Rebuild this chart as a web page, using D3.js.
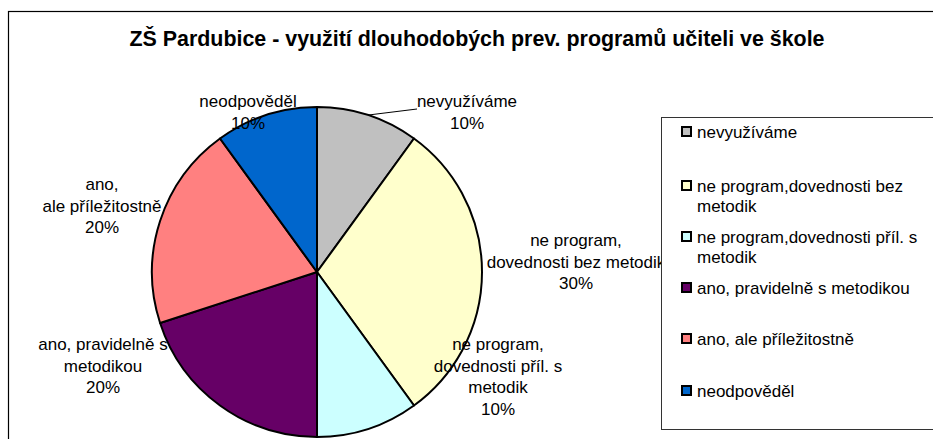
<!DOCTYPE html>
<html>
<head>
<meta charset="utf-8">
<script src="https://cdn.jsdelivr.net/npm/d3@7"></script>
<style>
  html, body { margin: 0; padding: 0; background: #fff; }
  svg { display: block; font-family: Arial, "Liberation Sans", sans-serif; }
</style>
</head>
<body>
<svg id="chart" width="933" height="439"></svg>
<script>
// Survey answers (share of teachers, %)
const categories = [
  "nevyužíváme",
  "ne program,dovednosti bez metodik",
  "ne program,dovednosti příl. s metodik",
  "ano, pravidelně s metodikou",
  "ano, ale příležitostně",
  "neodpověděl"
];
const values = [10, 30, 10, 20, 20, 10];
const colors = ["#C0C0C0", "#FFFFCC", "#CCFFFF", "#660066", "#FF8080", "#0066CC"];

// Wrapped text for the slice labels
const sliceLabelLines = [
  ["nevyužíváme"],
  ["ne program,", "dovednosti bez metodik"],
  ["ne program,", "dovednosti příl. s", "metodik"],
  ["ano, pravidelně s", "metodikou"],
  ["ano,", "ale příležitostně"],
  ["neodpověděl"]
];
// Wrapped text for the legend entries
const legendLines = [
  ["nevyužíváme"],
  ["ne program,dovednosti bez", "metodik"],
  ["ne program,dovednosti příl. s", "metodik"],
  ["ano, pravidelně s metodikou"],
  ["ano, ale příležitostně"],
  ["neodpověděl"]
];
const title = "ZŠ Pardubice - využití dlouhodobých prev. programů učiteli ve škole";

const svg = d3.select("#chart");
const total = d3.sum(values);

// outer chart frame
svg.append("rect")
  .attr("x", 8.5).attr("y", 11.5)
  .attr("width", 1000).attr("height", 1000)
  .attr("fill", "#fff").attr("stroke", "#000").attr("stroke-width", 1.2);

// title
svg.append("text")
  .attr("x", 477).attr("y", 46)
  .attr("text-anchor", "middle")
  .attr("font-size", 21.4).attr("font-weight", "bold")
  .attr("fill", "#000")
  .text(title);

// pie
const cx = 317, cy = 272, r = 165;
const pie = d3.pie().sort(null).value(d => d)(values);
const arc = d3.arc().innerRadius(0).outerRadius(r);

const g = svg.append("g").attr("transform", `translate(${cx},${cy})`);
g.selectAll("path.slice")
  .data(pie)
  .join("path")
  .attr("class", "slice")
  .attr("d", arc)
  .attr("fill", (d, i) => colors[i])
  .attr("stroke", "#000")
  .attr("stroke-width", 2)
  .attr("stroke-linejoin", "round");

// label anchors: centre x and first baseline
const labelAnchor = [
  [467, 107],
  [576, 246],
  [498, 350],
  [103, 350],
  [102, 190],
  [248, 107]
];
const lineH = 21.5;
const labelFont = 17;

// leader line for the top-right slice label
{
  const d = pie[0];
  const mid = (d.startAngle + d.endAngle) / 2;
  const sx = cx + Math.sin(mid) * r, sy = cy - Math.cos(mid) * r;
  svg.append("line")
    .attr("x1", sx).attr("y1", sy)
    .attr("x2", 417).attr("y2", 109)
    .attr("stroke", "#000").attr("stroke-width", 1);
}

pie.forEach((d, i) => {
  const lines = sliceLabelLines[i].concat([Math.round(d.data / total * 100) + "%"]);
  const t = svg.append("text")
    .attr("text-anchor", "middle")
    .attr("font-size", labelFont)
    .attr("fill", "#000");
  lines.forEach((s, k) => {
    t.append("tspan")
      .attr("x", labelAnchor[i][0])
      .attr("y", labelAnchor[i][1] + k * lineH)
      .text(s);
  });
});

// legend
const lg = svg.append("g");
lg.append("rect")
  .attr("x", 661.5).attr("y", 117.5)
  .attr("width", 400).attr("height", 312)
  .attr("fill", "#fff").attr("stroke", "#333").attr("stroke-width", 1);

const legendBaselines = [138, 192, 243, 294, 345, 397];
categories.forEach((c, i) => {
  const by = legendBaselines[i];
  lg.append("rect")
    .attr("x", 682).attr("y", by - 11)
    .attr("width", 9).attr("height", 9)
    .attr("fill", colors[i])
    .attr("stroke", "#000").attr("stroke-width", 2);
  const t = lg.append("text")
    .attr("font-size", labelFont)
    .attr("fill", "#000");
  legendLines[i].forEach((s, k) => {
    t.append("tspan").attr("x", 697).attr("y", by + k * 20).text(s);
  });
});
</script>
</body>
</html>
